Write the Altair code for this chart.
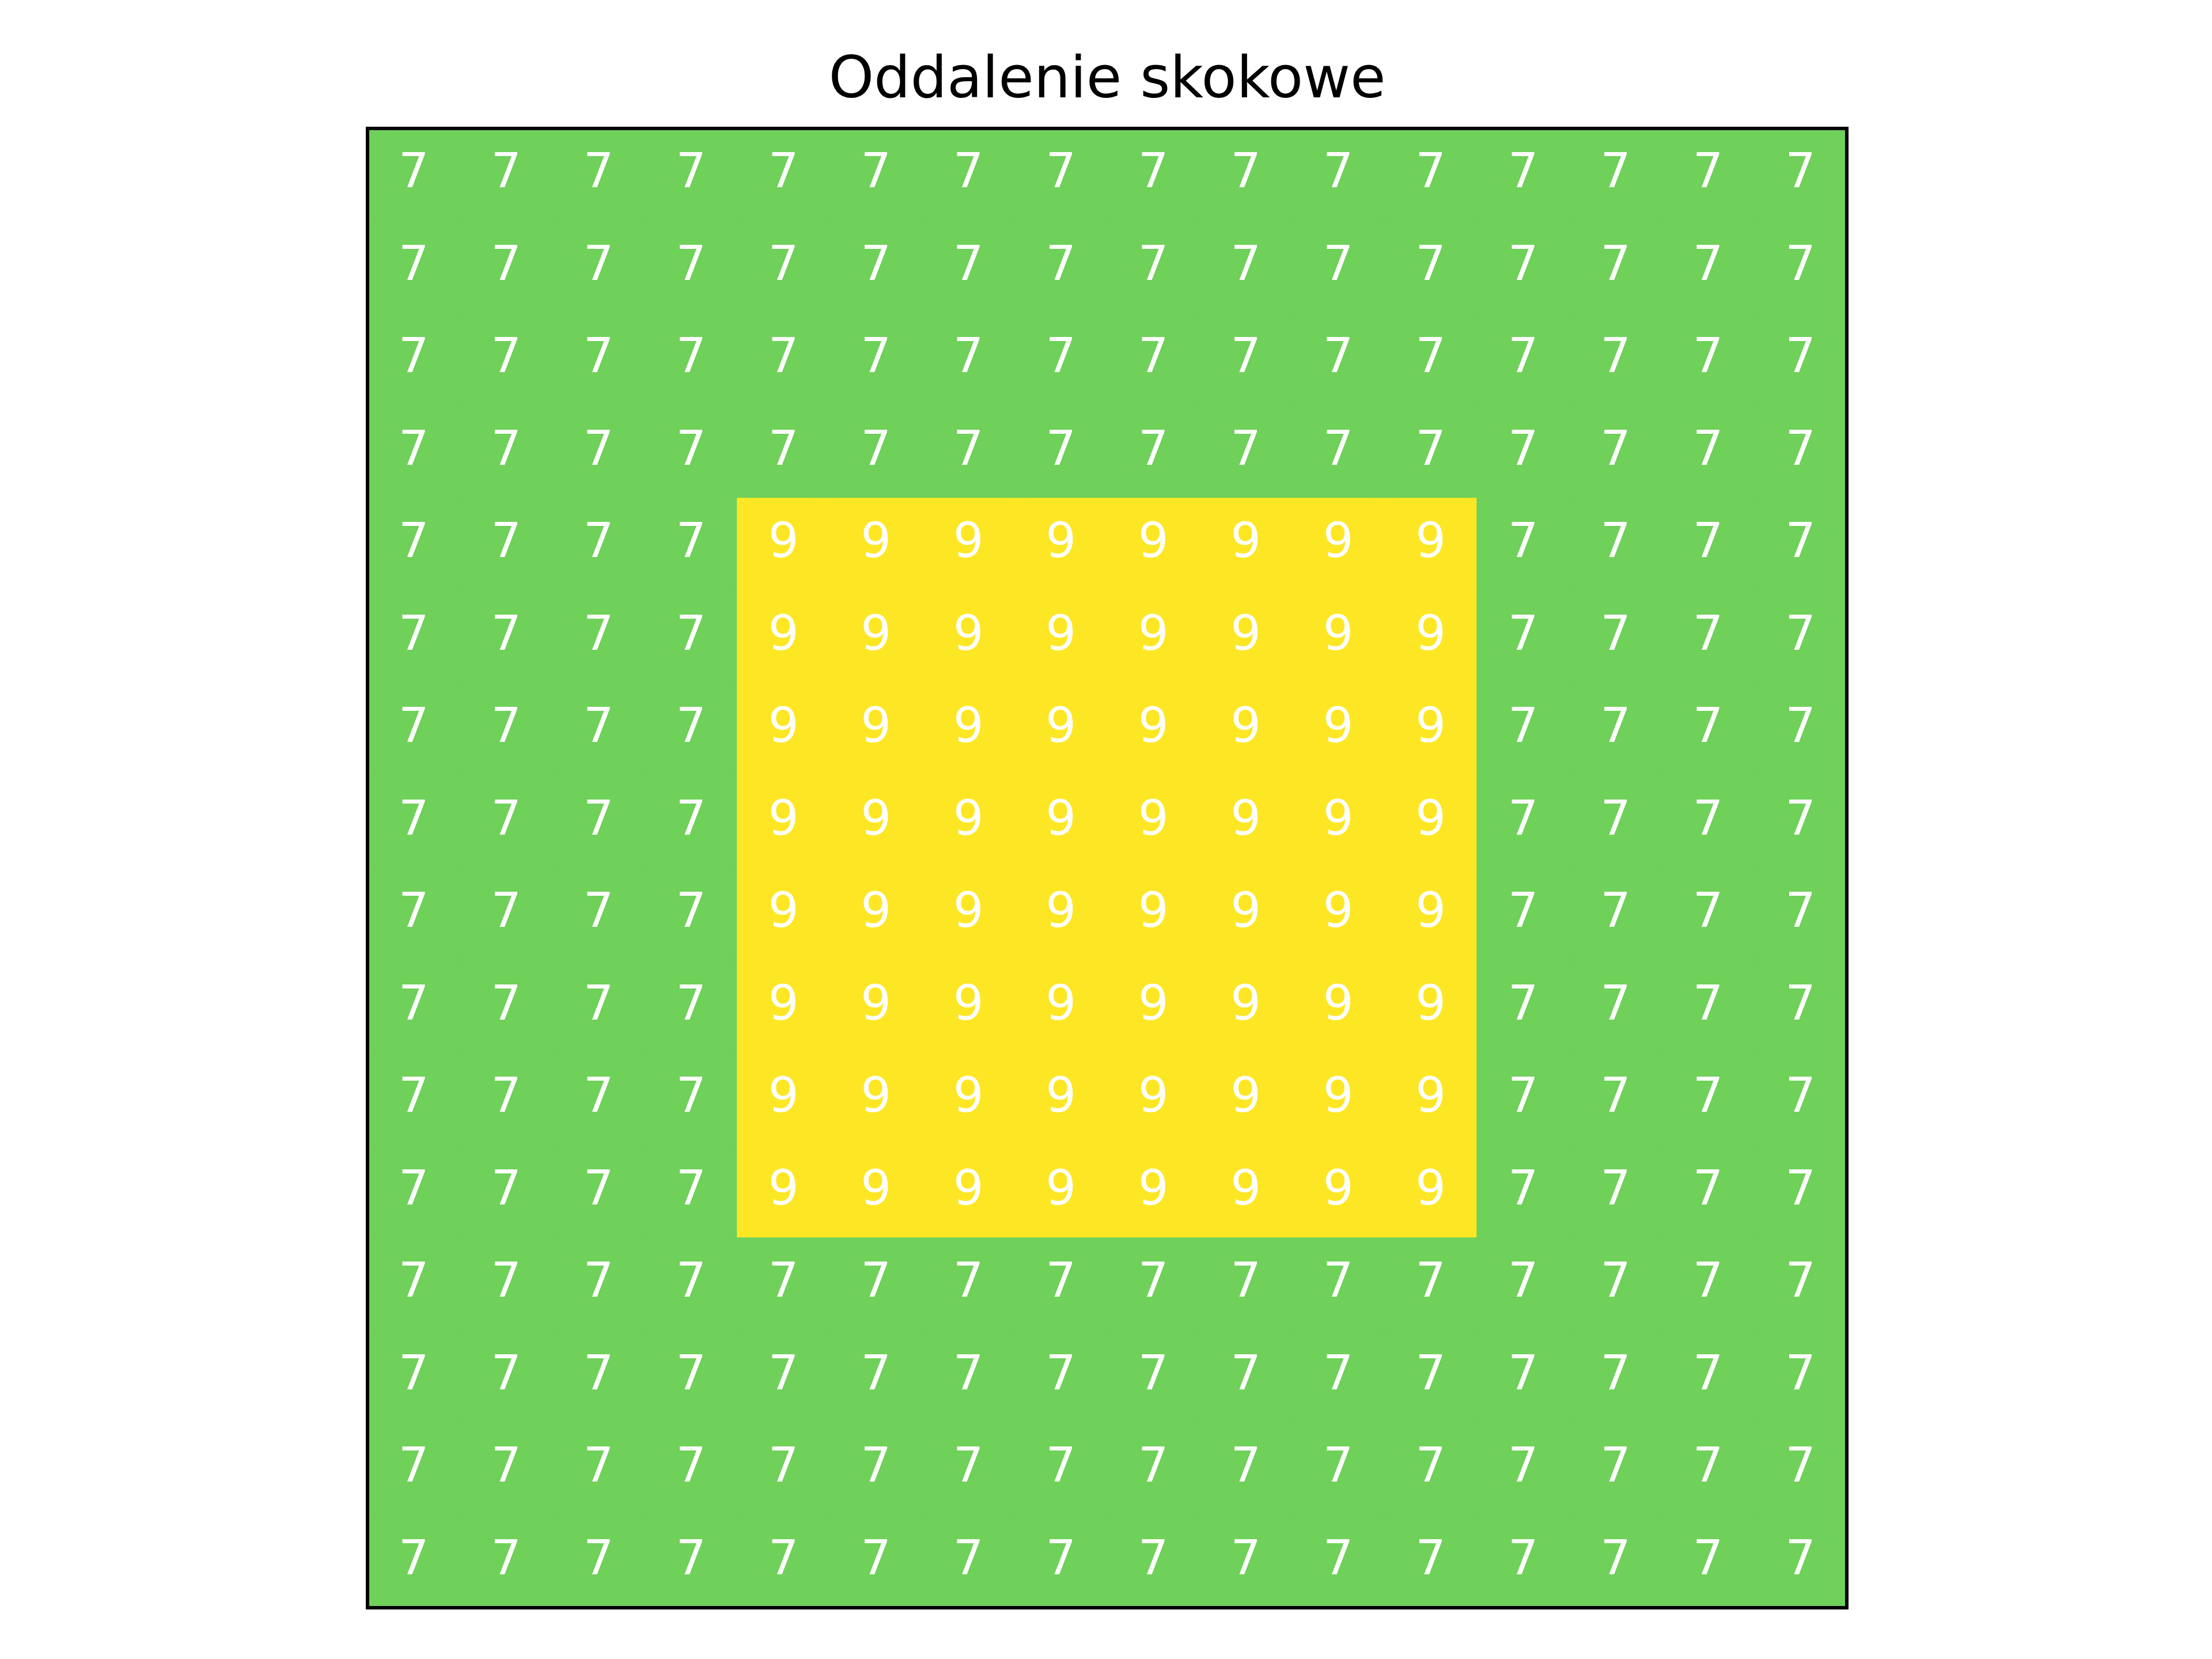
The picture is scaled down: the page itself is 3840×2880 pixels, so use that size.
import altair as alt
import pandas as pd

title_text = "Oddalenie skokowe"

grid_rows = [
    [7, 7, 7, 7, 7, 7, 7, 7, 7, 7, 7, 7, 7, 7, 7, 7],
    [7, 7, 7, 7, 7, 7, 7, 7, 7, 7, 7, 7, 7, 7, 7, 7],
    [7, 7, 7, 7, 7, 7, 7, 7, 7, 7, 7, 7, 7, 7, 7, 7],
    [7, 7, 7, 7, 7, 7, 7, 7, 7, 7, 7, 7, 7, 7, 7, 7],
    [7, 7, 7, 7, 9, 9, 9, 9, 9, 9, 9, 9, 7, 7, 7, 7],
    [7, 7, 7, 7, 9, 9, 9, 9, 9, 9, 9, 9, 7, 7, 7, 7],
    [7, 7, 7, 7, 9, 9, 9, 9, 9, 9, 9, 9, 7, 7, 7, 7],
    [7, 7, 7, 7, 9, 9, 9, 9, 9, 9, 9, 9, 7, 7, 7, 7],
    [7, 7, 7, 7, 9, 9, 9, 9, 9, 9, 9, 9, 7, 7, 7, 7],
    [7, 7, 7, 7, 9, 9, 9, 9, 9, 9, 9, 9, 7, 7, 7, 7],
    [7, 7, 7, 7, 9, 9, 9, 9, 9, 9, 9, 9, 7, 7, 7, 7],
    [7, 7, 7, 7, 9, 9, 9, 9, 9, 9, 9, 9, 7, 7, 7, 7],
    [7, 7, 7, 7, 7, 7, 7, 7, 7, 7, 7, 7, 7, 7, 7, 7],
    [7, 7, 7, 7, 7, 7, 7, 7, 7, 7, 7, 7, 7, 7, 7, 7],
    [7, 7, 7, 7, 7, 7, 7, 7, 7, 7, 7, 7, 7, 7, 7, 7],
    [7, 7, 7, 7, 7, 7, 7, 7, 7, 7, 7, 7, 7, 7, 7, 7],
]

color_domain = [7, 9]
color_range = ["#6fd05a", "#fde725"]

records = []
for r, row in enumerate(grid_rows):
    for c, v in enumerate(row):
        records.append({"row": r, "col": c, "value": v})
df = pd.DataFrame(records)

size = 2568

xenc = alt.X("col:O", axis=None, scale=alt.Scale(paddingInner=0, paddingOuter=0))
yenc = alt.Y("row:O", axis=None, scale=alt.Scale(paddingInner=0, paddingOuter=0))
cscale = alt.Scale(domain=color_domain, range=color_range)

rects = alt.Chart(df).mark_rect(strokeWidth=1.5).encode(
    x=xenc,
    y=yenc,
    color=alt.Color("value:Q", scale=cscale, legend=None),
    stroke=alt.Stroke("value:Q", scale=cscale, legend=None),
)

labels = alt.Chart(df).mark_text(
    font="DejaVu Sans", fontSize=83, color="white", baseline="middle", align="center", dy=-3
).encode(
    x=xenc,
    y=yenc,
    text="value:Q",
)

frame = alt.Chart(pd.DataFrame({"f": [0]})).mark_rect(
    fillOpacity=0, stroke="black", strokeWidth=6
).encode(
    x=alt.value(0), x2=alt.value(size), y=alt.value(0), y2=alt.value(size)
)

chart = (rects + labels + frame).properties(
    width=size,
    height=size,
    title=alt.TitleParams(
        text=title_text, font="DejaVu Sans", fontSize=100, fontWeight="normal",
        color="black", anchor="middle", offset=30,
    ),
    padding={"left": 635, "top": 89, "right": 0, "bottom": 0},
    background="white",
).configure_view(strokeWidth=0)

chart.save("out.html", embed_options={"renderer": "svg", "actions": False})
